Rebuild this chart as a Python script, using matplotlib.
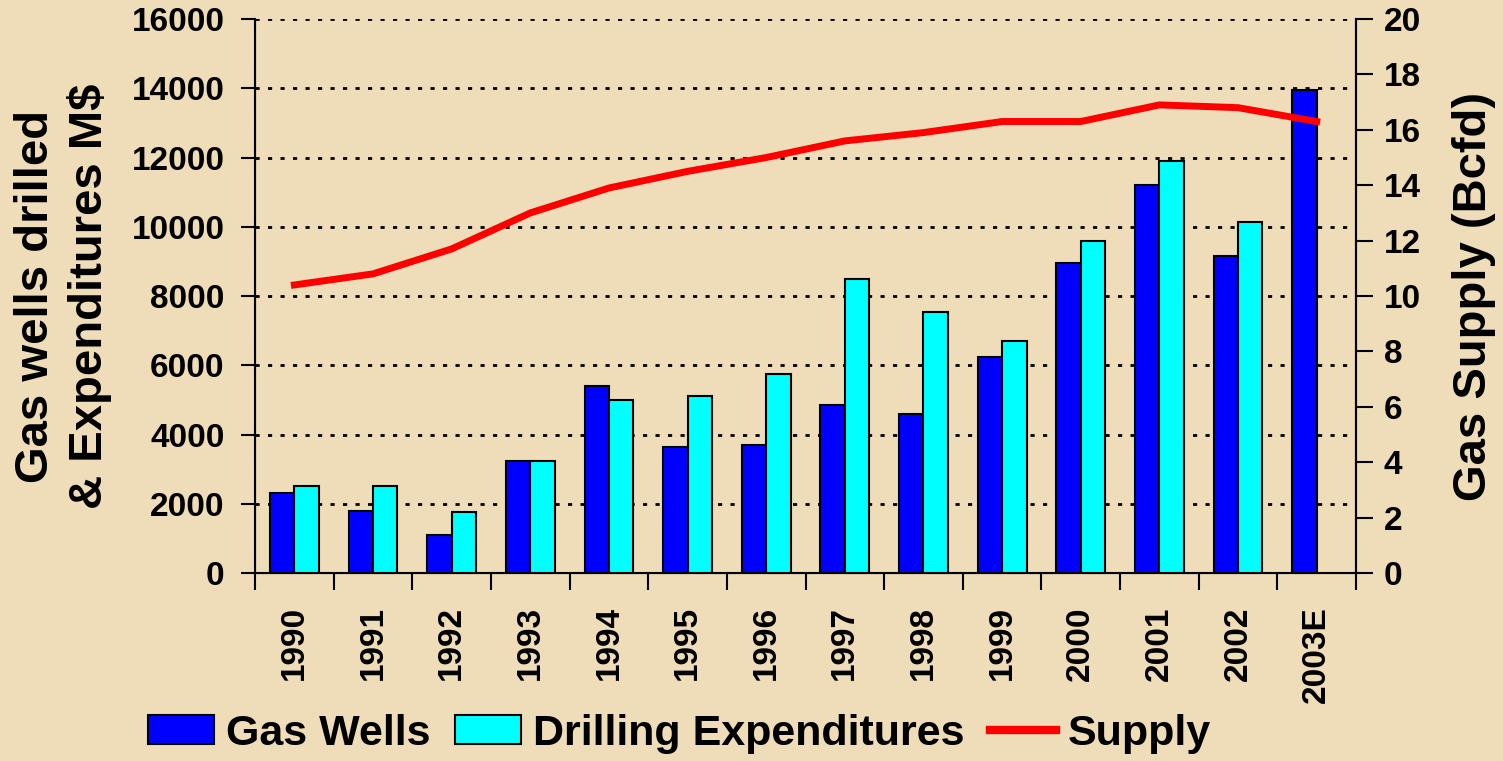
import numpy as np
import matplotlib
matplotlib.use("Agg")
import matplotlib.pyplot as plt
from matplotlib.patches import Patch
from matplotlib.lines import Line2D

years = ["1990", "1991", "1992", "1993", "1994", "1995", "1996",
         "1997", "1998", "1999", "2000", "2001", "2002", "2003E"]
gas_wells = [2300, 1800, 1100, 3250, 5400, 3650, 3700,
             4850, 4600, 6250, 8950, 11200, 9150, 13950]
drilling_exp = [2500, 2500, 1750, 3250, 5000, 5100, 5750,
                8500, 7550, 6700, 9600, 11900, 10150, np.nan]
supply = [10.4, 10.8, 11.7, 13.0, 13.9, 14.5, 15.0,
          15.6, 15.9, 16.3, 16.3, 16.9, 16.8, 16.3]

bg = "#EEDDB8"
plt.rcParams['font.family'] = ['Liberation Sans', 'DejaVu Sans']
plt.rcParams['font.weight'] = 'bold'

fig = plt.figure(figsize=(15.03, 7.61), dpi=100, facecolor=bg)
ax = fig.add_axes([0.1697, 0.247, 0.7325, 0.728])
ax.set_facecolor(bg)

x = np.arange(len(years))
w = 0.31
ax.bar(x - w / 2, gas_wells, w, color="#0000FF", edgecolor="black", linewidth=1.5, zorder=3)
ax.bar(x + w / 2, drilling_exp, w, color="#00FFFF", edgecolor="black", linewidth=1.5, zorder=3)

ax.set_xlim(-0.5, len(years) - 0.5)
ax.set_ylim(0, 16000)
ax.set_yticks(range(0, 16001, 2000))
ax.yaxis.grid(True, color="black", linestyle=(0, (1.5, 3)), linewidth=2)
ax.set_axisbelow(True)

ax.set_xticks(x)
ax.set_xticklabels(years, rotation=90, fontsize=24, fontweight="bold")
ax.set_xticks(np.arange(-0.5, len(years)), minor=True)
ax.tick_params(axis="x", which="major", length=0, pad=24)
ax.tick_params(axis="x", which="minor", length=12, width=1.5, direction="out")
ax.tick_params(axis="y", length=10, width=1.5, labelsize=24, pad=12)
for lab in ax.get_yticklabels():
    lab.set_fontweight("bold")

for s in ["left", "bottom", "right"]:
    ax.spines[s].set_linewidth(1.5)
ax.spines["top"].set_visible(False)

ax.set_ylabel("Gas wells drilled\n& Expenditures M$", fontsize=34, fontweight="bold",
              labelpad=14, linespacing=1.25)

ax2 = ax.twinx()
ax2.plot(x, supply, color="#FF0000", linewidth=5, zorder=5)
ax2.set_ylim(0, 20)
ax2.set_yticks(range(0, 21, 2))
ax2.tick_params(axis="y", length=12, width=1.5, labelsize=24, pad=8)
for lab in ax2.get_yticklabels():
    lab.set_fontweight("bold")
ax2.spines["top"].set_visible(False)
ax2.spines["right"].set_linewidth(1.5)
ax2.set_ylabel("Gas Supply (Bcfd)", fontsize=34, fontweight="bold", labelpad=22)

handles = [Patch(facecolor="#0000FF", edgecolor="black", linewidth=1.5),
           Patch(facecolor="#00FFFF", edgecolor="black", linewidth=1.5),
           Line2D([0], [0], color="#FF0000", linewidth=6)]
fig.legend(handles, ["Gas Wells", "Drilling Expenditures", "Supply"],
           loc="center", bbox_to_anchor=(0.452, 0.036), ncol=3, frameon=False,
           prop={"size": 31, "weight": "bold"}, handlelength=1.53, handleheight=0.65,
           handletextpad=0.28, columnspacing=0.58, borderaxespad=0)

fig.savefig("out.png", dpi=100, facecolor=bg)
